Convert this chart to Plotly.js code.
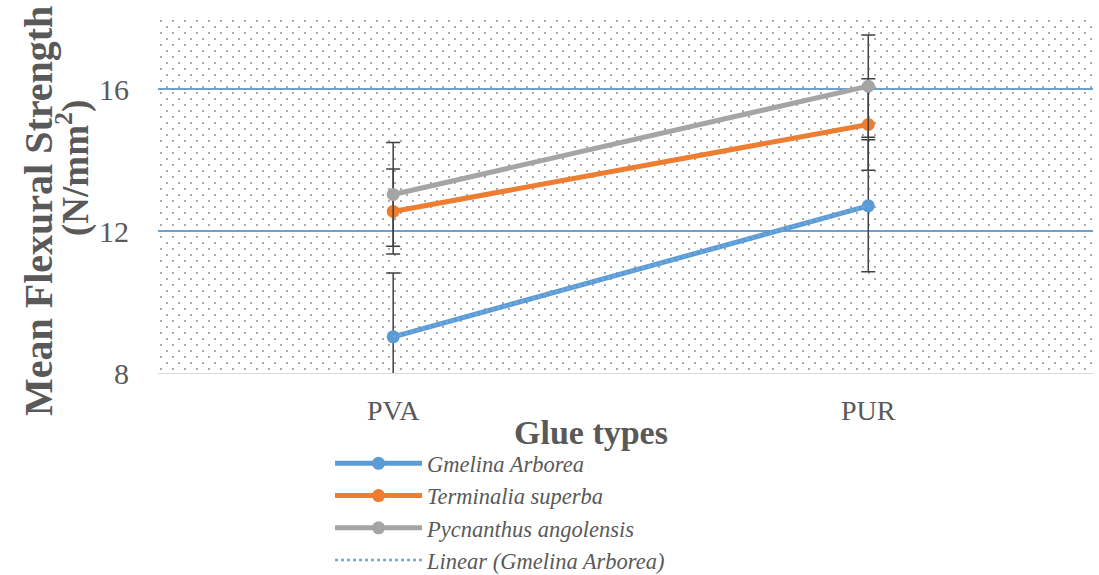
<!DOCTYPE html>
<html>
<head>
<meta charset="utf-8">
<script src="https://cdn.plot.ly/plotly-3.0.1.min.js"></script>
<style>
  html, body { margin: 0; padding: 0; background: #ffffff; }
  #chart { width: 1099px; height: 575px; }
</style>
</head>
<body>
<div id="chart"></div>
<script>
// ---- data ----
const glueTypes = ["PVA", "PUR"];
const gmelina = [9.02, 12.71];
const gmelinaErr = [1.8, 1.86];
const terminalia = [12.55, 15.0];
const terminaliaErr = [1.2, 1.29];
const pycnanthus = [13.03, 16.08];
const pycnanthusErr = [1.46, 1.44];
const seriesNames = ["Gmelina Arborea", "Terminalia superba", "Pycnanthus angolensis", "Linear (Gmelina Arborea)"];
const yTicks = [8, 12, 16];

const colors = ["#5B9BD5", "#ED7D31", "#A5A5A5"];
const serif = "'Liberation Serif', 'Times New Roman', serif";
const textGray = "#595959";

function lineTrace(name, y, err, color) {
  return {
    type: "scatter", mode: "lines+markers", name: name,
    x: glueTypes, y: y,
    line: { color: color, width: 5 },
    marker: { color: color, size: 13 },
    error_y: { type: "data", array: err, visible: true, color: "#404040", thickness: 1.5, width: 7 }
  };
}

const traces = [
  lineTrace(seriesNames[0], gmelina, gmelinaErr, colors[0]),
  lineTrace(seriesNames[1], terminalia, terminaliaErr, colors[1]),
  lineTrace(seriesNames[2], pycnanthus, pycnanthusErr, colors[2]),
  {
    type: "scatter", mode: "lines", name: seriesNames[3],
    x: glueTypes, y: gmelina,
    line: { color: "#6FA8DC", width: 2.5, dash: "dot" }
  }
];

const dotsSvg = "<svg xmlns='http://www.w3.org/2000/svg' width='935' height='355'>" +
  "<defs><pattern id='p' width='12' height='12' patternUnits='userSpaceOnUse'>" +
  "<circle cx='3' cy='3' r='1' fill='#8f8f8f'/><circle cx='9' cy='9' r='1' fill='#8f8f8f'/>" +
  "</pattern></defs><rect width='100%' height='100%' fill='url(#p)'/></svg>";

const layout = {
  width: 1099, height: 575,
  margin: { l: 158, r: 6, t: 18, b: 202, autoexpand: false },
  paper_bgcolor: "#ffffff",
  plot_bgcolor: "#ffffff",
  showlegend: true,
  images: [{
    source: "data:image/svg+xml;charset=utf-8," + encodeURIComponent(dotsSvg),
    xref: "paper", yref: "paper", x: 0, y: 1, sizex: 1, sizey: 1,
    xanchor: "left", yanchor: "top", sizing: "stretch", layer: "below"
  }],
  xaxis: {
    type: "category",
    range: [-0.495, 1.473],
    showgrid: false, zeroline: false,
    showline: true, linecolor: "#d9d9d9", linewidth: 1,
    ticks: "", ticklabelstandoff: 12,
    tickfont: { family: serif, size: 28, color: textGray }
  },
  yaxis: {
    range: [8, 18],
    tickvals: yTicks, ticktext: yTicks.map(String),
    showgrid: true, gridcolor: "#6F9FCB", gridwidth: 1.5,
    zeroline: false, showline: false, ticks: "",
    ticklabelstandoff: 28,
    tickfont: { family: serif, size: 30, color: textGray }
  },
  legend: {
    x: 0.184, y: -0.195, xanchor: "left", yanchor: "top",
    bgcolor: "rgba(255,255,255,0)",
    itemwidth: 87,
    font: { family: serif, size: 22.5, color: textGray, style: "italic" },
    tracegroupgap: 0
  },
  annotations: [
    {
      text: "<b>Glue types</b>", xref: "paper", yref: "paper",
      x: (591 - 158) / 935, y: (373 - 432) / 355, xanchor: "center", yanchor: "middle",
      showarrow: false, font: { family: serif, size: 34, color: textGray }
    },
    {
      text: "<b>Mean Flexural Strength</b>", xref: "paper", yref: "paper",
      x: (39 - 158) / 935, y: (373 - 211) / 355, xanchor: "center", yanchor: "middle",
      textangle: -90, showarrow: false, font: { family: serif, size: 40, color: textGray }
    },
    {
      text: "<b>(N/mm<sup>2</sup>)</b>", xref: "paper", yref: "paper",
      x: (73 - 158) / 935, y: (373 - 168) / 355, xanchor: "center", yanchor: "middle",
      textangle: -90, showarrow: false, font: { family: serif, size: 37, color: textGray }
    }
  ]
};

Plotly.newPlot("chart", traces, layout, { displayModeBar: false, staticPlot: true });
</script>
</body>
</html>
